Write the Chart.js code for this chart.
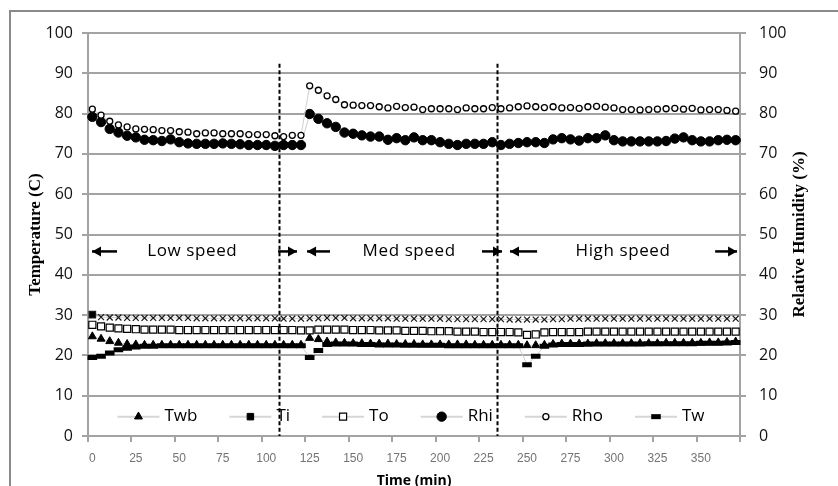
<!DOCTYPE html>
<html>
<head>
<meta charset="utf-8">
<script src="https://cdn.jsdelivr.net/npm/chart.js@4"></script>
<style>
  html, body { margin: 0; padding: 0; background: #fff; }
  #grafico_temp { display: block; }
</style>
</head>
<body>
<canvas id="grafico_temp" width="838" height="486"></canvas>
<script>
// tempo (min) de cada leitura
const tempos = [0,5,10,15,20,25,30,35,40,45,50,55,60,65,70,75,80,85,90,95,100,105,110,115,120,
  125,130,135,140,145,150,155,160,165,170,175,180,185,190,195,200,205,210,215,220,225,230,235,240,245,
  250,255,260,265,270,275,280,285,290,295,300,305,310,315,320,325,330,335,340,345,350,355,360,365,370];

const twb = [24.7,24.1,23.5,23.1,22.8,22.7,22.6,22.6,22.6,22.6,22.6,22.6,22.6,22.6,22.6,22.6,22.6,22.6,22.6,22.6,22.6,22.6,22.6,22.6,22.6,
  24.3,24.0,23.4,23.2,23.1,23.0,23.0,22.9,22.9,22.9,22.8,22.8,22.8,22.7,22.7,22.7,22.7,22.7,22.7,22.6,22.6,22.6,22.6,22.6,22.6,
  22.5,22.5,22.6,22.8,22.9,22.9,22.9,22.9,23.0,23.0,23.0,23.0,23.0,23.0,23.0,23.0,23.1,23.1,23.1,23.1,23.1,23.2,23.2,23.3,23.4];

const ti = [30.1,29.5,29.4,29.4,29.3,29.3,29.3,29.3,29.3,29.3,29.3,29.3,29.2,29.2,29.2,29.2,29.2,29.2,29.2,29.2,29.2,29.2,29.1,29.1,29.1,
  29.2,29.2,29.3,29.3,29.3,29.2,29.2,29.2,29.2,29.2,29.1,29.1,29.1,29.1,29.1,29.1,29.0,29.0,29.0,29.0,29.0,29.0,29.0,28.9,28.9,
  28.9,28.9,28.9,29.0,29.0,29.1,29.1,29.1,29.1,29.1,29.1,29.1,29.1,29.1,29.1,29.1,29.1,29.1,29.1,29.1,29.1,29.1,29.1,29.1,29.1];

const to = [27.6,27.2,26.9,26.7,26.6,26.5,26.4,26.4,26.4,26.4,26.3,26.3,26.3,26.3,26.3,26.3,26.3,26.3,26.3,26.3,26.3,26.3,26.3,26.3,26.2,
  26.2,26.4,26.4,26.4,26.4,26.3,26.3,26.3,26.2,26.2,26.2,26.1,26.1,26.1,26.0,26.0,26.0,25.9,25.9,25.9,25.8,25.8,25.8,25.8,25.7,
  25.1,25.2,25.7,25.8,25.8,25.8,25.8,25.9,25.9,25.9,25.9,25.9,25.9,25.9,25.9,25.9,25.9,25.9,25.9,25.9,25.9,25.9,25.9,25.9,25.9];

const rhi = [79.2,77.9,76.2,75.3,74.5,74.1,73.5,73.4,73.2,73.6,72.9,72.6,72.5,72.5,72.5,72.6,72.5,72.4,72.2,72.2,72.2,72.0,72.2,72.2,72.2,
  79.9,78.7,77.6,76.7,75.3,75.0,74.6,74.3,74.3,73.5,73.9,73.4,74.1,73.4,73.4,72.9,72.5,72.2,72.5,72.5,72.5,72.9,72.2,72.5,72.7,
  72.9,72.9,72.7,73.6,73.9,73.6,73.3,73.9,73.9,74.6,73.4,73.1,73.1,73.1,73.1,73.1,73.2,73.8,74.1,73.4,73.1,73.1,73.4,73.5,73.4];

const rho = [81.1,79.6,78.1,77.2,76.7,76.2,76.1,76.0,75.8,75.8,75.5,75.4,75.0,75.2,75.2,75.0,75.0,75.0,74.8,74.8,74.8,74.5,74.3,74.6,74.6,
  86.9,85.8,84.4,83.5,82.2,82.1,82.0,82.0,81.7,81.4,81.8,81.5,81.6,81.0,81.2,81.2,81.2,81.0,81.4,81.2,81.2,81.5,81.2,81.4,81.7,
  81.9,81.7,81.5,81.7,81.4,81.5,81.3,81.7,81.8,81.6,81.4,81.0,81.0,80.9,81.0,81.1,81.2,81.3,81.1,81.3,80.9,81.0,81.0,80.8,80.6];

const tw = [19.5,19.8,20.6,21.4,21.8,22.1,22.3,22.3,22.4,22.4,22.4,22.4,22.4,22.4,22.4,22.4,22.4,22.4,22.4,22.4,22.4,22.4,22.4,22.4,22.4,
  19.5,21.2,22.7,22.8,22.8,22.8,22.7,22.7,22.6,22.6,22.6,22.5,22.5,22.5,22.5,22.5,22.4,22.4,22.4,22.4,22.4,22.4,22.4,22.4,22.4,
  17.7,19.8,22.3,22.6,22.7,22.7,22.7,22.8,22.8,22.8,22.8,22.8,22.8,22.8,22.9,22.9,22.9,22.9,22.9,22.9,23.0,23.0,23.0,23.1,23.2];

// troca de velocidade (min) - linhas tracejadas
const trocas = [107.5, 232.5];
const faixas = [
  { texto: 'Low speed',  centro: 57.5,  esq: [-0.2, 14.2],  dir: [106.8, 117.7] },
  { texto: 'Med speed',  centro: 182.2, esq: [123.5, 136.7], dir: [224.1, 235.6] },
  { texto: 'High speed', centro: 305.2, esq: [240.2, 255.8], dir: [358.2, 370.8] }
];

const cinzaGrade = '#a3a3a3';
const cinzaLinha = '#cfcfcf';

const marcadores = {
  Twb: { pointStyle: 'triangle', radius: 4.6, fill: '#000', stroke: '#000', bw: 1 },
  Ti:  { pointStyle: 'rect', radius: 4.6, fill: '#000', stroke: '#000', bw: 1 },
  To:  { pointStyle: 'rect', radius: 5, fill: '#fff', stroke: '#000', bw: 1.2 },
  Rhi: { pointStyle: 'circle', radius: 4.7, fill: '#000', stroke: '#000', bw: 1 },
  Rho: { pointStyle: 'circle', radius: 3, fill: '#fff', stroke: '#000', bw: 1.3 },
  Tw:  { pointStyle: 'line', radius: 4.8, fill: '#000', stroke: '#000', bw: 5 }
};

function serie(label, data, eixo, ordem, extra) {
  const m = marcadores[label];
  return Object.assign({
    label: label,
    data: data,
    yAxisID: eixo,
    order: ordem,
    borderColor: cinzaLinha,
    borderWidth: 1,
    tension: 0,
    pointStyle: m.pointStyle,
    pointRadius: m.radius,
    pointHoverRadius: m.radius,
    pointBackgroundColor: m.fill,
    pointBorderColor: m.stroke,
    pointBorderWidth: m.bw
  }, extra || {});
}

const extras = {
  id: 'extras',
  beforeDraw(chart) {
    const ctx = chart.ctx;
    ctx.save();
    ctx.strokeStyle = '#8a8a8a';
    ctx.lineWidth = 2;
    ctx.strokeRect(10, 11, 900, 600);
    ctx.restore();
  },
  afterDatasetsDraw(chart) {
    const ctx = chart.ctx;
    const x = chart.scales.x, y = chart.scales.y;
    const px = t => x.getPixelForValue(t / 5);

    ctx.save();
    // linhas tracejadas
    ctx.strokeStyle = '#000';
    ctx.lineWidth = 2;
    ctx.setLineDash([4, 2.5]);
    trocas.forEach(t => {
      ctx.beginPath();
      ctx.moveTo(Math.round(px(t)) + 0.5, y.getPixelForValue(92.4));
      ctx.lineTo(Math.round(px(t)) + 0.5, y.getPixelForValue(0));
      ctx.stroke();
    });
    ctx.setLineDash([]);

    // faixas de velocidade
    const yy = y.getPixelForValue(45.8);
    ctx.font = '17px "Open Sans"';
    ctx.letterSpacing = '0.6px';
    ctx.fillStyle = '#000';
    ctx.textAlign = 'center';
    ctx.textBaseline = 'middle';
    function seta(x0, x1, ponta) {
      ctx.beginPath();
      ctx.moveTo(x0, yy);
      ctx.lineTo(x1, yy);
      ctx.lineWidth = 2.5;
      ctx.stroke();
      const d = ponta === x0 ? 1 : -1;
      ctx.beginPath();
      ctx.moveTo(ponta, yy);
      ctx.lineTo(ponta + d * 9, yy - 5);
      ctx.lineTo(ponta + d * 9, yy + 5);
      ctx.closePath();
      ctx.fill();
    }
    faixas.forEach(f => {
      ctx.fillText(f.texto, px(f.centro), yy);
      seta(px(f.esq[0]), px(f.esq[1]), px(f.esq[0]));
      seta(px(f.dir[0]), px(f.dir[1]), px(f.dir[1]));
    });
    ctx.letterSpacing = '0px';
    ctx.restore();
  },
  afterDraw(chart) {
    const ctx = chart.ctx;
    const area = chart.chartArea;
    ctx.save();

    // titulo do eixo da direita
    ctx.translate(800, (area.top + area.bottom) / 2);
    ctx.rotate(-Math.PI / 2);
    ctx.font = 'bold 17px "Liberation Serif"';
    ctx.fillStyle = '#000';
    ctx.textAlign = 'center';
    ctx.textBaseline = 'middle';
    ctx.fillText('Relative Humidity (%)', 0, 0);
    ctx.setTransform(1, 0, 0, 1, 0, 0);

    // legenda dentro da area do grafico
    const y0 = chart.scales.y.getPixelForValue(4.8);
    ctx.font = '17px "Open Sans"';
    ctx.textBaseline = 'middle';
    ctx.textAlign = 'left';
    const linha = 42, gap = 5, entre = 32;
    const ds = chart.data.datasets;
    let total = 0;
    ds.forEach((d, i) => {
      total += linha + gap + ctx.measureText(d.label).width + (i < ds.length - 1 ? entre : 0);
    });
    let cx = (area.left + area.right) / 2 - total / 2 - 3;
    ds.forEach(d => {
      const m = marcadores[d.label];
      ctx.strokeStyle = '#d6d6d6';
      ctx.lineWidth = 2;
      ctx.beginPath();
      ctx.moveTo(cx, y0);
      ctx.lineTo(cx + linha, y0);
      ctx.stroke();
      ctx.fillStyle = m.fill;
      ctx.strokeStyle = m.stroke;
      ctx.lineWidth = m.bw;
      Chart.helpers.drawPoint(ctx, { pointStyle: m.pointStyle, radius: m.radius, borderWidth: m.bw, rotation: 0 }, cx + linha / 2, y0);
      ctx.fillStyle = '#000';
      ctx.fillText(d.label, cx + linha + gap, y0);
      cx += linha + gap + ctx.measureText(d.label).width + entre;
    });
    ctx.restore();
  }
};

new Chart(document.getElementById('grafico_temp'), {
  type: 'line',
  data: {
    labels: tempos,
    datasets: [
      serie('Twb', twb, 'y', 6),
      serie('Ti', ti, 'y', 5, {
        pointStyle: c => c.dataIndex === 0 ? 'rect' : 'crossRot',
        pointRadius: c => c.dataIndex === 0 ? 4.6 : 4.2,
        pointBackgroundColor: '#000',
        pointBorderColor: '#1a1a1a',
        pointBorderWidth: 1.2
      }),
      serie('To', to, 'y', 4),
      serie('Rhi', rhi, 'y1', 3),
      serie('Rho', rho, 'y1', 2),
      serie('Tw', tw, 'y', 1)
    ]
  },
  options: {
    responsive: false,
    animation: false,
    devicePixelRatio: 1,
    layout: { padding: { top: 33, left: 0, right: 0, bottom: 0 } },
    plugins: {
      legend: { display: false },
      tooltip: { enabled: false }
    },
    scales: {
      x: {
        type: 'category',
        offset: true,
        grid: {
          offset: true,
          drawOnChartArea: false,
          drawTicks: true,
          tickLength: 6,
          lineWidth: 2,
          tickColor: c => (c.index === undefined || c.index % 5 === 0) ? cinzaGrade : 'rgba(0,0,0,0)'
        },
        border: { display: true, color: cinzaGrade, width: 2 },
        ticks: {
          autoSkip: false,
          maxRotation: 0,
          padding: 9,
          color: '#737373',
          font: { family: '"Liberation Sans"', size: 12 },
          callback: function (v, i) { return i % 5 === 0 ? this.getLabelForValue(v) : ''; }
        },
        title: {
          display: true,
          text: 'Time (min)',
          color: '#000',
          font: { family: '"Open Sans"', size: 14, weight: 'bold' },
          padding: { top: 0, bottom: -3 }
        },
        afterFit: s => { s.height = 50; }
      },
      y: {
        position: 'left',
        min: 0,
        max: 100,
        ticks: {
          stepSize: 10,
          padding: 9,
          color: '#111',
          font: { family: '"Open Sans"', size: 16 }
        },
        grid: { color: cinzaGrade, lineWidth: 2, tickLength: 6 },
        border: { display: true, color: cinzaGrade, width: 2 },
        title: {
          display: true,
          text: 'Temperature (C)',
          color: '#000',
          font: { family: '"Liberation Serif"', size: 17, weight: 'bold' },
          padding: { top: 25, bottom: 0 }
        },
        afterFit: s => { s.width = 88; }
      },
      y1: {
        position: 'right',
        min: 0,
        max: 100,
        ticks: {
          stepSize: 10,
          padding: 13,
          color: '#111',
          font: { family: '"Open Sans"', size: 16 }
        },
        grid: { drawOnChartArea: false, color: cinzaGrade, lineWidth: 2, tickLength: 6 },
        border: { display: true, color: cinzaGrade, width: 2 },
        afterFit: s => { s.width = 98; }
      }
    }
  },
  plugins: [extras]
});
</script>
</body>
</html>
